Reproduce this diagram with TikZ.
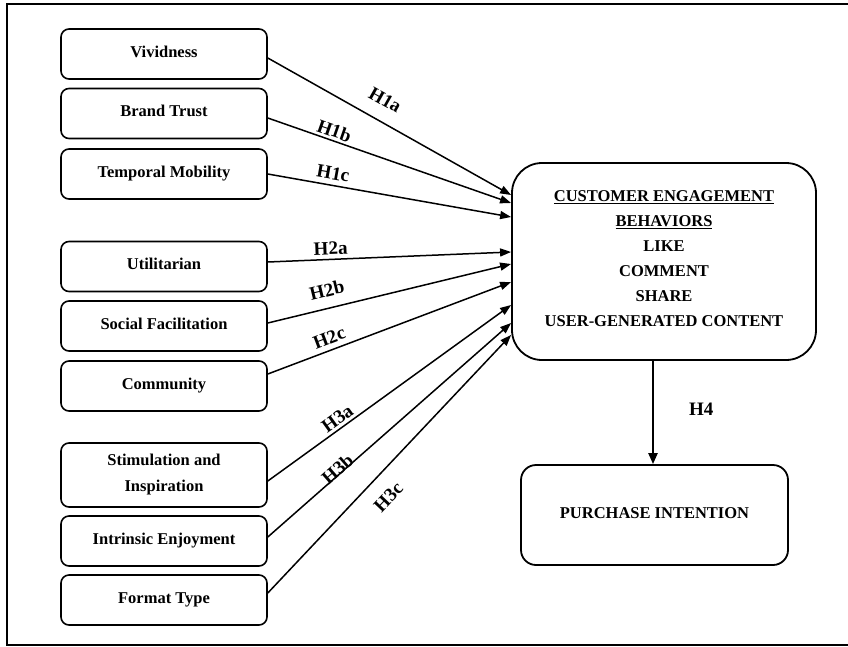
\documentclass[tikz,border=0pt]{standalone}
\usepackage{fontspec}
\setmainfont{Liberation Serif}
\usetikzlibrary{arrows.meta}
\begin{document}
\begin{tikzpicture}[x=1pt,y=-1pt,
  sbox/.style={draw, line width=1.6pt, rounded corners=8pt, minimum width=206pt, minimum height=50pt, inner sep=0pt, align=center,
    font=\fontsize{16.5}{26}\selectfont\bfseries},
  onel/.style={text height=12pt, text depth=6pt},
  arr/.style={line width=1.5pt, -{Triangle[length=11pt,width=8pt]}},
  hlab/.style={sloped, font=\fontsize{19}{19}\selectfont\bfseries, inner sep=0pt}]
\useasboundingbox (0,0) rectangle (848,646);
% outer frame (right side cut off)
\draw[line width=2pt] (848,4) -- (7,4) -- (7,645) -- (848,645);
% left boxes
\node[sbox, onel] (viv) at (164,54) {Vividness};
\node[sbox, onel] (bt) at (164,113.5) {Brand Trust};
\node[sbox, onel] (tm) at (164,174) {Temporal Mobility};
\node[sbox, onel] (ut) at (164,266.5) {Utilitarian};
\node[sbox, onel] (sf) at (164,326) {Social Facilitation};
\node[sbox, onel] (co) at (164,386) {Community};
\node[sbox, minimum height=64pt] (si) at (164,475) {Stimulation and\\Inspiration};
\node[sbox, onel] (ie) at (164,541) {Intrinsic Enjoyment};
\node[sbox, onel] (ft) at (164,600) {Format Type};
% central box
\node[draw, line width=1.8pt, rounded corners=30pt, minimum width=304pt, minimum height=197pt, align=center,
  text depth=6pt, font=\fontsize{16.5}{25}\selectfont\bfseries] (ceb) at (664,261.5)
  {\underline{CUSTOMER ENGAGEMENT}\\\underline{BEHAVIORS}\\LIKE\\COMMENT\\SHARE\\USER-GENERATED CONTENT};
\node[draw, line width=1.8pt, rounded corners=15pt, minimum width=267pt, minimum height=100pt,
  text height=12pt, text depth=6pt, font=\fontsize{16.5}{25}\selectfont\bfseries] (pi) at (654.5,515) {PURCHASE INTENTION};
% arrows
\draw[arr] ([yshift=-4pt]viv.east) -- ([yshift=66.5pt]ceb.west) node[hlab, pos=0.44, yshift=21pt] {H1a};
\draw[arr] ([yshift=-4.5pt]bt.east) -- ([yshift=58.5pt]ceb.west) node[hlab, pos=0.26, yshift=10pt] {H1b};
\draw[arr] (tm.east) -- ([yshift=44.5pt]ceb.west) node[hlab, pos=0.26, yshift=12pt] {H1c};
\draw[arr] ([yshift=4.5pt]ut.east) -- ([yshift=9.5pt]ceb.west) node[hlab, pos=0.26, yshift=11pt] {H2a};
\draw[arr] ([yshift=3pt]sf.east) -- ([yshift=-2.5pt]ceb.west) node[hlab, pos=0.26, yshift=18pt] {H2b};
\draw[arr] ([yshift=12pt]co.east) -- ([yshift=-20.5pt]ceb.west) node[hlab, pos=0.27, yshift=12pt] {H2c};
\draw[arr] ([yshift=-6pt]si.east) -- ([yshift=-43.5pt]ceb.west) node[hlab, pos=0.31, yshift=10pt] {H3a};
\draw[arr] ([yshift=4pt]ie.east) -- ([yshift=-61.5pt]ceb.west) node[hlab, pos=0.30, yshift=5pt] {H3b};
\draw[arr] ([yshift=7pt]ft.east) -- ([yshift=-73.5pt]ceb.west) node[hlab, pos=0.43, yshift=-22pt] {H3c};
\draw[line width=2.2pt, -{Triangle[length=11pt,width=9pt]}] ([xshift=-11pt]ceb.south) -- ([xshift=-1.5pt]pi.north)
  node[pos=0.47, right=35pt, font=\fontsize{19}{19}\selectfont\bfseries, inner sep=0pt] {H4};
\end{tikzpicture}
\end{document}
